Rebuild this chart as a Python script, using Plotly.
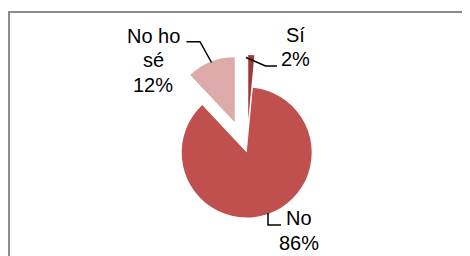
import plotly.graph_objects as go

# ---- data ----
labels = ["Sí", "No", "No ho sé"]
values = [1.5, 86.5, 12]  # shares; labels show rounded %
label_lines = [["Sí"], ["No"], ["No ho", "sé"]]
colors = ["#9B3A37", "#C0504D", "#DBAAA9"]
pulls = [0.5, 0.0, 0.5]

W, H = 470, 256
OFF = 8  # page body margin offset

def px(x, y):
    return (x - OFF) / W, 1 - (y - OFF) / H

total = sum(values)
pcts = [f"{v * 100 / total:.0f}" for v in values]

dx0, dy0 = px(149.2, 250)
dx1, dy1 = px(344.2, 55)

fig = go.Figure(go.Pie(
    labels=labels, values=values, sort=False, direction="clockwise",
    rotation=0, pull=pulls, textinfo="none", hoverinfo="label+percent",
    marker=dict(colors=colors, line=dict(width=0)),
    domain=dict(x=[dx0, dx1], y=[dy0, dy1]),
    showlegend=False,
))

# label placement (layout): center x, first baseline y, line pitch
label_pos = [(295.5, 41.7), (298.5, 225.0), (153.0, 42.7)]
pitch = 24.5
fs = 20
annotations = []
for i, lines in enumerate(label_lines):
    cx, base = label_pos[i]
    texts = lines + [f"{pcts[i]}%"]
    for k, t in enumerate(texts):
        bx, by = px(cx, base + k * pitch - 0.35 * fs)
        annotations.append(dict(
            x=bx, y=by, xref="paper", yref="paper", text=t, showarrow=False,
            xanchor="center", yanchor="middle",
            font=dict(family="Liberation Sans, Arial", size=fs, color="black"),
        ))

def path(points):
    s = ""
    for j, (x, y) in enumerate(points):
        X, Y = px(x, y)
        s += ("M" if j == 0 else "L") + f"{X},{Y} "
    return s.strip()

leaders = [
    [(246, 57.5), (265.5, 66), (277, 66)],
    [(268, 213), (268, 225), (281, 225)],
    [(186.5, 41.7), (200, 41.7), (211.5, 62.5)],
]
shapes = [dict(type="path", path=path(p), xref="paper", yref="paper",
               line=dict(color="black", width=1.5)) for p in leaders]

bx0, by0 = px(9, 12)
bx1, by1 = px(490, 280)
shapes.append(dict(type="rect", xref="paper", yref="paper",
                   x0=bx0, y0=by1, x1=bx1, y1=by0,
                   line=dict(color="#8C8C8C", width=2)))

fig.update_layout(
    width=W, height=H, margin=dict(l=0, r=0, t=0, b=0),
    paper_bgcolor="white", plot_bgcolor="white",
    annotations=annotations, shapes=shapes,
)

fig.write_html("out.html")
